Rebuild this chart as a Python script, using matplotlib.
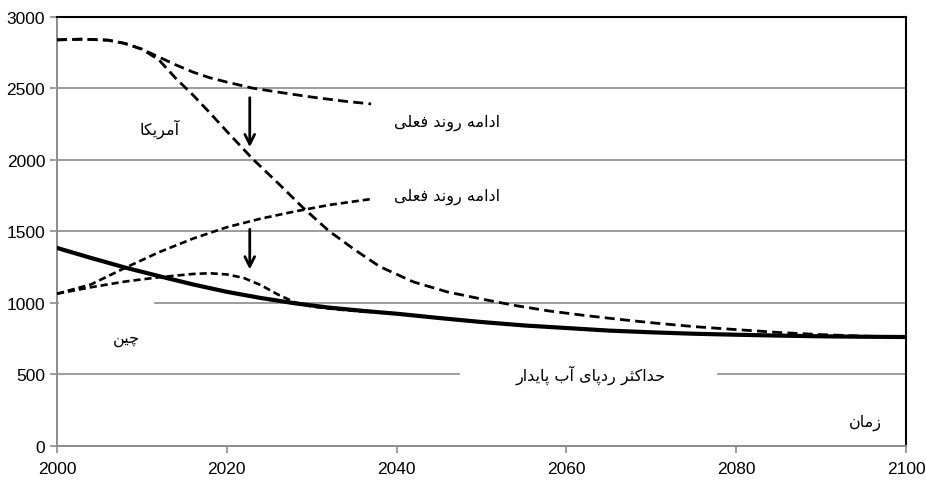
# -*- coding: utf-8 -*-

import matplotlib
matplotlib.use('Agg')
import matplotlib.pyplot as plt
from matplotlib.patches import Rectangle


# values
us_bau_years = [2000, 2003, 2006, 2008, 2010, 2012, 2014, 2016, 2018, 2020, 2023, 2026, 2030, 2034, 2037]
us_bau_vals = [2840, 2845, 2838, 2815, 2775, 2720, 2665, 2615, 2575, 2545, 2503, 2475, 2440, 2410, 2392]

us_red_years = [2000, 2003, 2006, 2008, 2010, 2012, 2014, 2016, 2018, 2020, 2023, 2026, 2029, 2032,
                2035, 2038, 2042, 2046, 2050, 2054, 2058, 2062, 2066, 2070, 2075, 2080, 2085, 2090, 2095, 2100]
us_red_vals = [2840, 2845, 2838, 2815, 2775, 2700, 2570, 2455, 2330, 2200, 2010, 1840, 1665, 1505,
               1375, 1255, 1147, 1077, 1028, 982, 944, 914, 887, 862, 835, 814, 794, 779, 768, 762]

cn_bau_years = [2000, 2004, 2008, 2012, 2016, 2020, 2024, 2028, 2032, 2037]
cn_bau_vals = [1065, 1130, 1245, 1355, 1450, 1530, 1590, 1640, 1685, 1727]

cn_red_years = [2000, 2004, 2008, 2012, 2016, 2018, 2020, 2022, 2024, 2026, 2028, 2030, 2033, 2037]
cn_red_vals = [1065, 1110, 1150, 1180, 1203, 1208, 1200, 1175, 1125, 1060, 1005, 975, 955, 935]

max_years = [2000, 2004, 2008, 2012, 2016, 2020, 2024, 2028, 2032, 2036, 2040, 2045, 2050, 2055,
             2060, 2065, 2070, 2075, 2080, 2085, 2090, 2095, 2100]
max_vals = [1385, 1315, 1248, 1188, 1130, 1078, 1035, 998, 968, 945, 925, 895, 867, 843,
            825, 807, 795, 785, 778, 772, 767, 764, 762]

x_ticks = [2000, 2020, 2040, 2060, 2080, 2100]
y_ticks = [0, 500, 1000, 1500, 2000, 2500, 3000]


# persian letters -> (isolated, final, initial, medial); matplotlib does no shaping
FORMS = {
    '\u0627': ('\uFE8D', '\uFE8E', None, None),
    '\u0622': ('\uFE81', '\uFE82', None, None),
    '\u0628': ('\uFE8F', '\uFE90', '\uFE91', '\uFE92'),
    '\u067E': ('\uFB56', '\uFB57', '\uFB58', '\uFB59'),
    '\u062B': ('\uFE99', '\uFE9A', '\uFE9B', '\uFE9C'),
    '\u062D': ('\uFEA1', '\uFEA2', '\uFEA3', '\uFEA4'),
    '\u0686': ('\uFB7A', '\uFB7B', '\uFB7C', '\uFB7D'),
    '\u062F': ('\uFEA9', '\uFEAA', None, None),
    '\u0631': ('\uFEAD', '\uFEAE', None, None),
    '\u0632': ('\uFEAF', '\uFEB0', None, None),
    '\u0639': ('\uFEC9', '\uFECA', '\uFECB', '\uFECC'),
    '\u0641': ('\uFED1', '\uFED2', '\uFED3', '\uFED4'),
    '\u06A9': ('\uFB8E', '\uFB8F', '\uFB90', '\uFB91'),
    '\u0644': ('\uFEDD', '\uFEDE', '\uFEDF', '\uFEE0'),
    '\u0645': ('\uFEE1', '\uFEE2', '\uFEE3', '\uFEE4'),
    '\u0646': ('\uFEE5', '\uFEE6', '\uFEE7', '\uFEE8'),
    '\u0647': ('\uFEE9', '\uFEEA', '\uFEEB', '\uFEEC'),
    '\u0648': ('\uFEED', '\uFEEE', None, None),
    '\u06CC': ('\uFBFC', '\uFBFD', '\uFBFE', '\uFBFF'),
}


def fa(text):
    out = []
    for i, ch in enumerate(text):
        if ch not in FORMS:
            out.append(ch)
            continue
        prev = text[i - 1] if i > 0 else ''
        nxt = text[i + 1] if i + 1 < len(text) else ''
        join_prev = prev in FORMS and FORMS[prev][2] is not None
        join_next = nxt in FORMS and FORMS[ch][2] is not None
        iso, fin, ini, med = FORMS[ch]
        if join_prev and join_next:
            out.append(med)
        elif join_prev:
            out.append(fin)
        elif join_next:
            out.append(ini)
        else:
            out.append(iso)
    return ''.join(reversed(out))


plt.rcParams['font.family'] = ['Liberation Sans', 'DejaVu Sans']

fig = plt.figure(figsize=(9.26, 4.89), dpi=100)
ax = fig.add_axes([0.0616, 0.0859, 0.9168, 0.8773])

ax.set_xlim(2000, 2100)
ax.set_ylim(0, 3000)
ax.set_xticks(x_ticks)
ax.set_yticks(y_ticks)
ax.tick_params(labelsize=12.5, length=5, color='#8c8c8c', width=1.2)
ax.tick_params(axis='x', pad=6)
ax.yaxis.grid(True, color='#9c9c9c', lw=1.4)
ax.set_axisbelow(True)

for s in ['top', 'right']:
    ax.spines[s].set_color('black')
    ax.spines[s].set_linewidth(1.5)
for s in ['left', 'bottom']:
    ax.spines[s].set_color('#8c8c8c')
    ax.spines[s].set_linewidth(1.4)

# white patches hiding grid behind labels
ax.add_patch(Rectangle((2047.5, 440), 30.1, 120, color='white', zorder=1))
ax.add_patch(Rectangle((2000.2, 960), 11.1, 80, color='white', zorder=1))

ax.plot(max_years, max_vals, color='black', lw=3, zorder=3)
ax.plot(us_bau_years, us_bau_vals, color='black', lw=2, ls=(0, (3.6, 1.9)), zorder=3)
ax.plot(us_red_years, us_red_vals, color='black', lw=2, ls=(0, (3.6, 1.9)), zorder=3)
ax.plot(cn_bau_years, cn_bau_vals, color='black', lw=1.9, ls=(0, (2.7, 1.5)), zorder=3)
ax.plot(cn_red_years, cn_red_vals, color='black', lw=1.9, ls=(0, (2.7, 1.5)), zorder=3)

arrow = dict(arrowstyle='->,head_length=0.7,head_width=0.35', color='black', lw=2)
ax.annotate('', xy=(2022.7, 2070), xytext=(2022.7, 2455), arrowprops=arrow, zorder=4)
ax.annotate('', xy=(2022.7, 1215), xytext=(2022.7, 1535), arrowprops=arrow, zorder=4)

txt = dict(fontsize=11.5, family='DejaVu Sans', ha='center', va='center', zorder=5)
ax.text(2012.1, 2220, fa('آمریکا'), **txt)
ax.text(2045.9, 2266, fa('ادامه روند فعلی'), **txt)
ax.text(2045.9, 1750, fa('ادامه روند فعلی'), **txt)
ax.text(2008.2, 750, fa('چین'), **txt)
ax.text(2062.8, 505, fa('حداکثر ردپای آب پایدار'), **txt)
ax.text(2095.2, 170, fa('زمان'), **txt)

fig.savefig('out.png', dpi=100)
